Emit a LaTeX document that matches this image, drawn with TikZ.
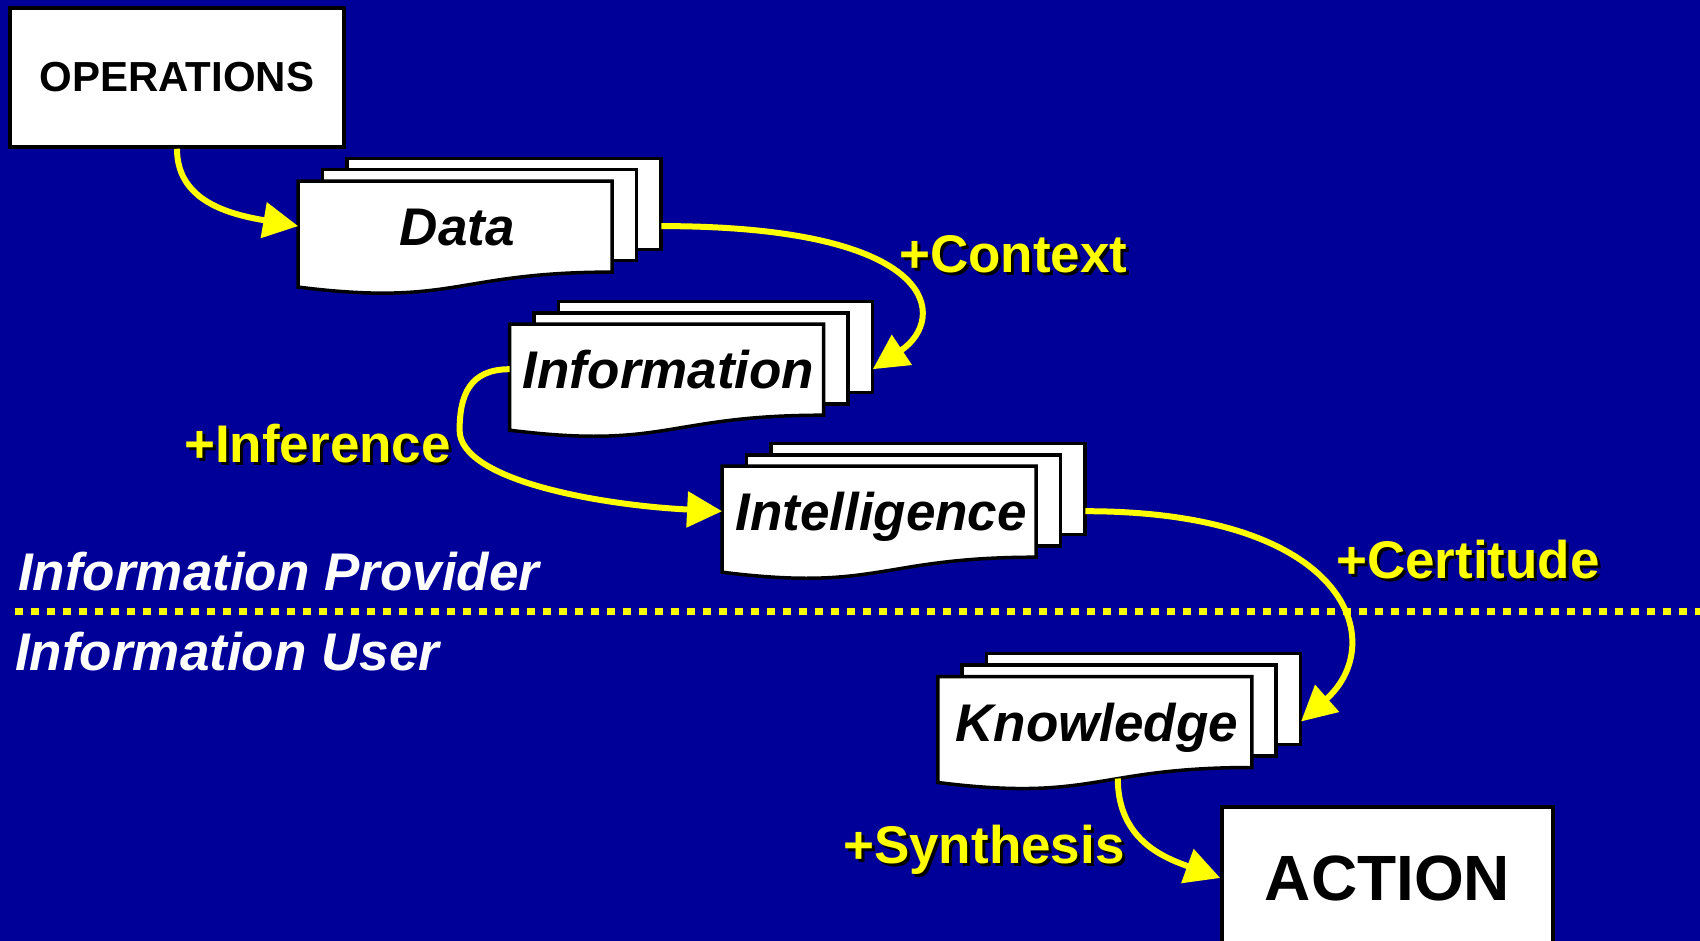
\documentclass[tikz,border=0pt]{standalone}
\usepackage{fontspec}
\setmainfont{Liberation Sans}
\usetikzlibrary{arrows.meta,calc}

\definecolor{slideblue}{RGB}{0,0,153}
\definecolor{flowyellow}{RGB}{255,255,0}

\tikzset{
  page/.style={draw=black, fill=white, line width=3.5pt, line join=miter},
  boxnode/.style={page, inner sep=0pt, font=\fontsize{42}{48}\selectfont\bfseries},
  doctext/.style={inner sep=0pt, font=\fontsize{53}{60}\selectfont\bfseries\itshape},
  flow/.style={draw=flowyellow, line width=6pt, -{Triangle[length=35pt,width=35pt]}},
  labeltext/.style={inner sep=0pt, anchor=base west, font=\fontsize{53}{60}\selectfont\bfseries},
  sidetext/.style={inner sep=0pt, anchor=base west, text=white, font=\fontsize{53}{60}\selectfont\bfseries\itshape},
  divider/.style={draw=flowyellow, line width=7pt, dash pattern=on 8pt off 8pt},
}

% A stack of three pages; #1 name, (#2,#3) top-left corner of the front page, #4 caption
\newcommand\docstack[4]{%
  \begin{scope}[shift={(#2,#3)}]
    \draw[page] (48.8,-22.8) rectangle (362.8,68.2);
    \draw[page] (24.4,-11.4) rectangle (338.4,79.6);
    \draw[page] (0,0) -- (314,0) -- (314,91)
      .. controls (157,91) and (157,125.7) .. (0,106) -- cycle;
    \node[doctext, anchor=base] (#1-label) at (159,64.5) {#4};
    \node[anchor=north west, inner sep=0pt, minimum width=362.8pt,
          minimum height=135.2pt] (#1) at (0,-22.8) {};
    \coordinate (#1-foot) at (180,102);
  \end{scope}}

% Yellow caption with a black drop shadow
\newcommand\glowlabel[4]{%
  \node[labeltext, text=black] (#1-shadow) at ({#2+3},{#3+3}) {#4};
  \node[labeltext, text=flowyellow] (#1) at (#2,#3) {#4};}

\begin{document}
\begin{tikzpicture}[x=1pt, y=-1pt]
  \clip (0,0) rectangle (1700,941);
  \fill[slideblue] (0,0) rectangle (1700,941);

  % provider / user boundary
  \draw[divider] (15,611) -- (1700,611);

  % document stacks
  \docstack{data}{298.2}{181.1}{Data}
  \docstack{info}{509.6}{324.2}{Information}
  \docstack{intel}{722.1}{466.2}{Intelligence}
  \docstack{know}{937.8}{676.5}{Knowledge}

  % end points
  \node[boxnode, minimum width=334pt, minimum height=139pt] (ops) at (177,77.5) {OPERATIONS};
  \node[boxnode, minimum width=331pt, minimum height=142pt,
        font=\fontsize{64}{70}\selectfont\bfseries] (action) at (1387.5,878) {ACTION};

  % flow
  \coordinate (infbend) at ($(info.west)+(-50,61)$);
  \draw[flow] (ops.south) .. controls +(0,52) and +(-70,-12) .. (data.west);
  \draw[flow] (data.east) .. controls +(280,0) and +(75,-50) .. (info.east);
  \draw[flow] (info.west) .. controls +(-40,0) and +(0,-35) .. (infbend)
                          .. controls +(0,50) and +(-122,-6) .. (intel.west);
  \draw[flow] (intel.east) .. controls +(265,0) and +(88,-78) .. (know.east);
  \draw[flow] (know-foot) .. controls +(0,62) and +(-55,-20) .. (action.west);

  % step captions
  \glowlabel{context}{899}{272.7}{+Context}
  \glowlabel{inference}{184}{462.4}{+Inference}
  \glowlabel{certitude}{1336}{578.4}{+Certitude}
  \glowlabel{synthesis}{843}{863.6}{+Synthesis}

  % side captions
  \node[sidetext] (provider) at (18,590.4) {Information Provider};
  \node[sidetext] (user) at (15,670.6) {Information User};
\end{tikzpicture}
\end{document}
